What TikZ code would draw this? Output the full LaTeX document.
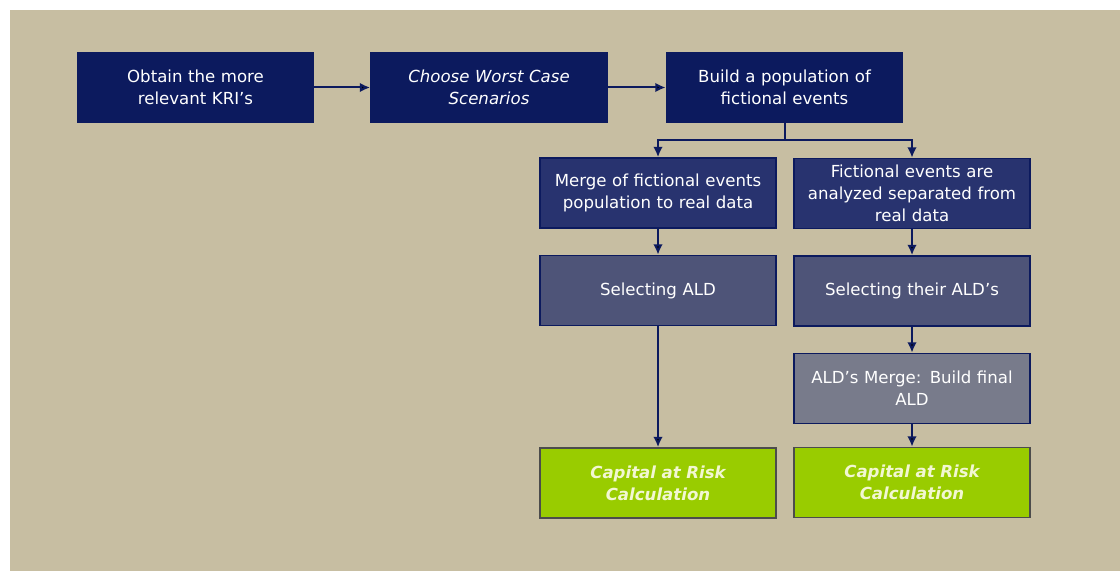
\documentclass[tikz,border=0pt]{standalone}
\usepackage{fontspec}
\setmainfont{DejaVu Sans}
\usetikzlibrary{arrows.meta}

\definecolor{sand}{HTML}{C7BEA2}
\definecolor{navy}{HTML}{0C1A5E}
\definecolor{navymid}{HTML}{28336F}
\definecolor{slate}{HTML}{4E5478}
\definecolor{steel}{HTML}{787B8B}
\definecolor{lime}{HTML}{99CC00}
\definecolor{limetext}{HTML}{F2F7D2}

\tikzset{
  box/.style={draw=navy, line width=0.4mm, text=white, align=center,
    minimum width=5.9cm, minimum height=1.75cm, text width=5.6cm, inner sep=0pt,
    font=\fontsize{11.8}{15.6}\selectfont},
  result/.style={box, fill=lime, draw=black!70, text=limetext,
    font=\fontsize{11.8}{15.6}\selectfont\bfseries\itshape},
  link/.style={draw=navy, line width=0.5mm},
  flow/.style={link, -{Latex[length=2.6mm,width=2.4mm]}}
}

\begin{document}
\begin{tikzpicture}[x=0.025cm, y=-0.025cm]
  \useasboundingbox (0,0) rectangle (1120,571);
  \fill[sand] (10,10) rectangle (1120,571);

  \node[box, fill=navy](K1) at (195.5, 87.5) {Obtain the more\\ relevant KRI’s};
  \node[box, fill=navy](K2) at (489,   87.5) {\itshape Choose Worst Case\\ Scenarios};
  \node[box, fill=navy](K3) at (784.5, 87.5) {Build a population of\\ fictional events};

  \node[box, fill=navymid](L1) at (658, 193) {Merge of fictional events\\ population to real data};
  \node[box, fill=navymid](R1) at (912, 193.5) {Fictional events are\\ analyzed separated from\\ real data};

  \node[box, fill=slate](L2) at (658, 290.5) {Selecting ALD};
  \node[box, fill=slate](R2) at (912, 291) {Selecting their ALD’s};
  \node[box, fill=steel](R3) at (912, 388.5) {ALD’s Merge: Build final\\ ALD};

  \node[result](L3) at (658, 483) {Capital at Risk\\ Calculation};
  \node[result](R4) at (912, 482.5) {Capital at Risk\\ Calculation};

  \coordinate (split) at (784.5, 140);

  \draw[flow] (K1) edge (K2) (K2) edge (K3)
              (L1) edge (L2) (L2) edge (L3)
              (R1) edge (R2) (R2) edge (R3) (R3) edge (R4);
  \draw[link] (K3) -- (split);
  \draw[flow] (split) -| (L1);
  \draw[flow] (split) -| (R1);
\end{tikzpicture}
\end{document}
